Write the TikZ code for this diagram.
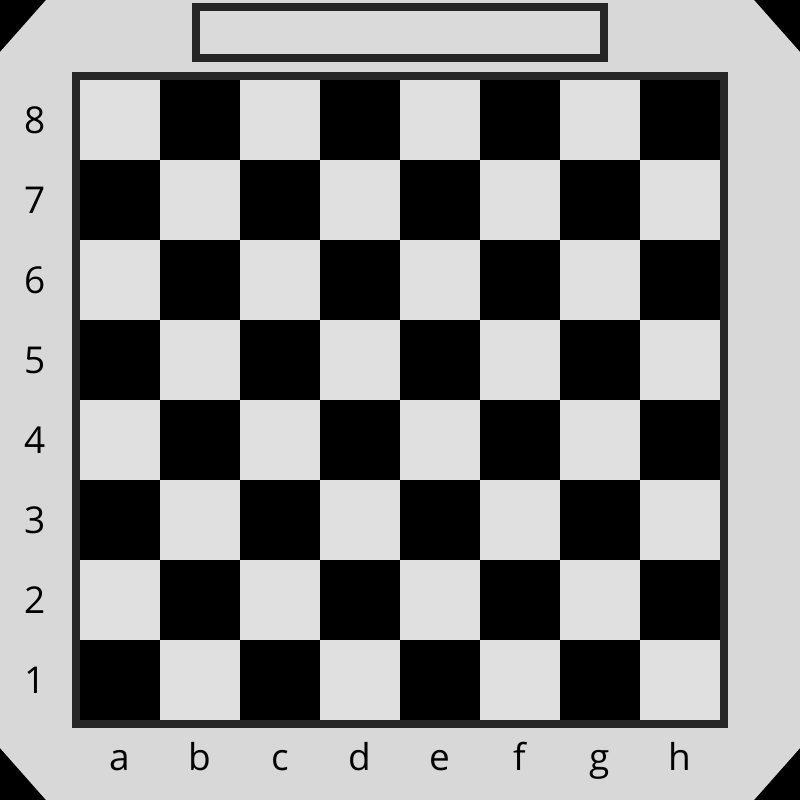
\documentclass[tikz,border=0pt]{standalone}
\usepackage{fontspec}
\setmainfont{Open Sans}
\definecolor{bgc}{HTML}{D8D8D8}
\definecolor{lightsq}{HTML}{E0E0E0}
\definecolor{frame}{HTML}{262626}
\definecolor{boxfill}{HTML}{DADADA}
\begin{document}
\begin{tikzpicture}[x=1pt,y=-1pt,
  lbl/.style={font=\fontsize{37}{40}\selectfont, text=black, inner sep=0pt, anchor=base},
  sqlight/.style={fill=lightsq},
  sqdark/.style={fill=black}]
\useasboundingbox (0,0) rectangle (800,800);
\fill[black] (0,0) rectangle (800,800);
\fill[bgc] (46,0) -- (754,0) -- (800,52) -- (800,748) -- (754,800) -- (46,800) -- (0,748) -- (0,52) -- cycle;
% top box
\node[draw=frame, line width=8pt, fill=boxfill, minimum width=408pt, minimum height=51pt, inner sep=0pt] (topbox) at (400,32.5) {};
% board
\foreach \c in {0,...,7}{
  \foreach \r in {0,...,7}{
    \pgfmathtruncatemacro{\sqpar}{mod(\c+\r,2)}
    \ifnum\sqpar=0
      \fill[sqlight] (80+80*\c,80+80*\r) rectangle ++(80,80);
    \else
      \fill[sqdark] (80+80*\c,80+80*\r) rectangle ++(80,80);
    \fi
  }
}
\draw[frame, line width=8pt] (76,76) rectangle (724,724);
% rank labels
\foreach \n [count=\i from 0] in {8,7,6,5,4,3,2,1}{
  \node[lbl] (rank\n) at (35,133+80*\i) {\n};
}
% file labels
\foreach \f [count=\i from 0] in {a,b,c,d,e,f,g,h}{
  \node[lbl] (file\f) at (120+80*\i,770) {\f};
}
\end{tikzpicture}
\end{document}
